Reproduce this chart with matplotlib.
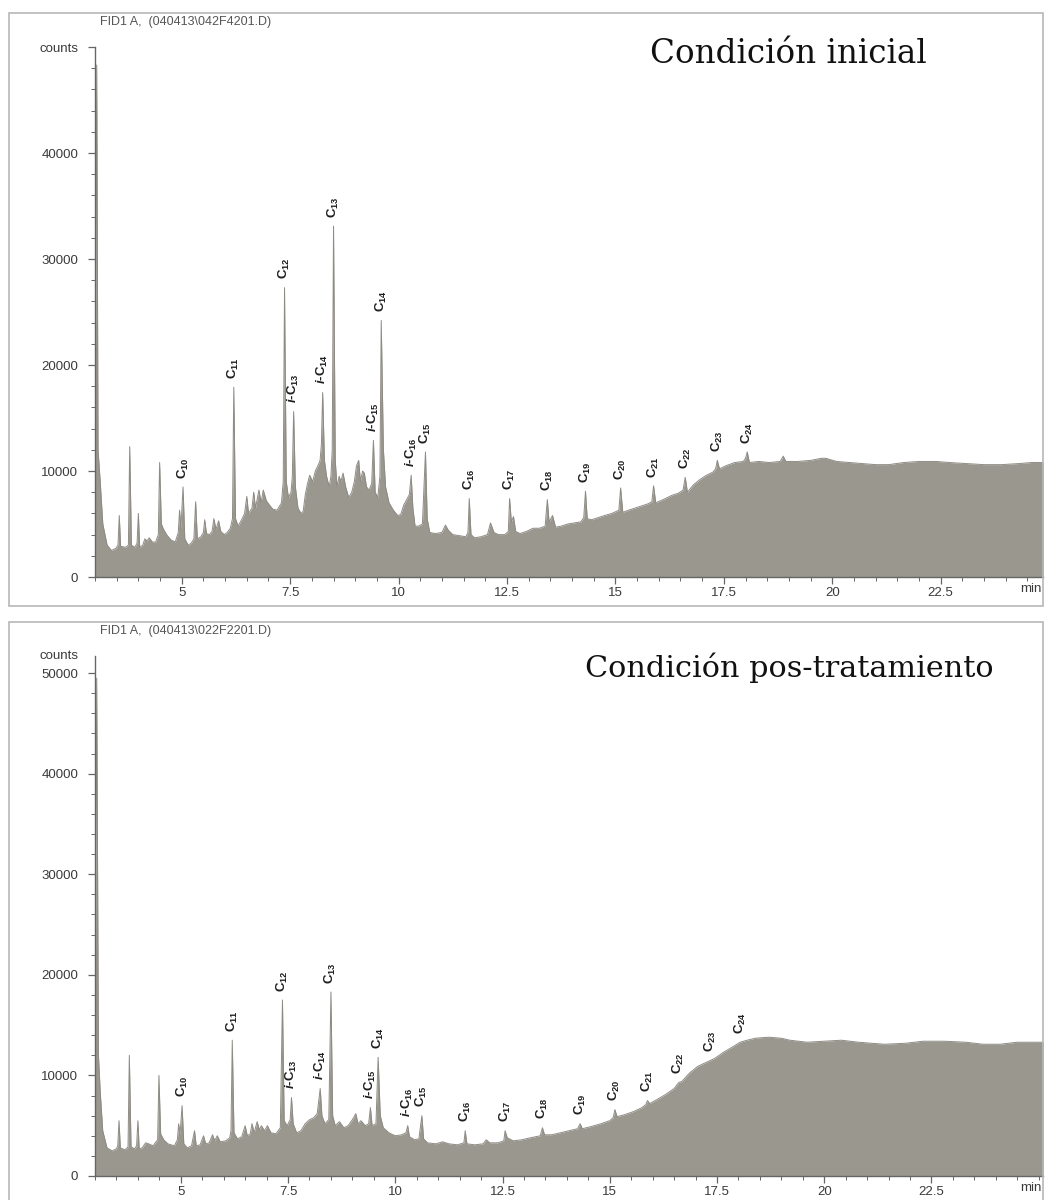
import matplotlib
matplotlib.use('Agg')
import matplotlib.pyplot as plt
from matplotlib.patches import Rectangle
from matplotlib.ticker import MultipleLocator
import numpy as np

# FID trace of the initial sample: (retention time in min, counts)
inicial = [
    (3.00, 9500), (3.04, 48300), (3.07, 12000), (3.12, 9000), (3.18, 5000),
    (3.28, 3000), (3.38, 2500), (3.48, 2700), (3.53, 3000), (3.56, 5800),
    (3.59, 2900), (3.70, 2800), (3.77, 3000), (3.80, 12300), (3.84, 3000),
    (3.92, 2800), (3.97, 3200), (4.00, 6000), (4.03, 2800), (4.10, 3000),
    (4.15, 3600), (4.20, 3400), (4.25, 3700), (4.32, 3300), (4.40, 3300),
    (4.46, 4000), (4.49, 10800), (4.53, 5000), (4.58, 4500), (4.65, 4000),
    (4.75, 3500), (4.85, 3300), (4.92, 4200), (4.95, 6300), (4.98, 4500),
    (5.03, 8500), (5.07, 3600), (5.15, 3000), (5.22, 3200), (5.28, 3600),
    (5.32, 7100), (5.36, 3600), (5.44, 3800), (5.50, 4200), (5.53, 5400),
    (5.57, 4100), (5.64, 4000), (5.70, 4300), (5.74, 5500), (5.79, 4500),
    (5.85, 5300), (5.90, 4300), (5.98, 4000), (6.05, 4200), (6.12, 4600),
    (6.17, 5500), (6.20, 17900), (6.24, 5500), (6.30, 4800), (6.38, 5400),
    (6.45, 6000), (6.50, 7600), (6.54, 6000), (6.62, 6500), (6.66, 8000),
    (6.70, 6500), (6.78, 8200), (6.83, 7000), (6.88, 8200), (6.95, 7200),
    (7.02, 6800), (7.10, 6400), (7.20, 6300), (7.30, 7000), (7.34, 9000),
    (7.37, 27300), (7.41, 9000), (7.46, 7500), (7.52, 8000), (7.55, 9500),
    (7.58, 15600), (7.62, 8500), (7.68, 6500), (7.75, 6000), (7.80, 6200),
    (7.85, 7800), (7.90, 8800), (7.95, 9600), (8.02, 9000), (8.08, 10000),
    (8.14, 10500), (8.19, 11000), (8.22, 12500), (8.25, 17400), (8.29, 11000),
    (8.34, 9500), (8.40, 8500), (8.44, 9500), (8.47, 12000), (8.50, 33100),
    (8.54, 11000), (8.58, 8500), (8.63, 9500), (8.67, 9000), (8.72, 9800),
    (8.78, 8500), (8.85, 7500), (8.92, 8000), (8.98, 9000), (9.03, 10500),
    (9.08, 11000), (9.12, 9000), (9.17, 10000), (9.21, 9800), (9.26, 8500),
    (9.32, 8200), (9.38, 8800), (9.42, 12900), (9.46, 8000), (9.52, 7500),
    (9.57, 9500), (9.60, 24200), (9.65, 12000), (9.70, 8500), (9.78, 7000),
    (9.88, 6300), (9.98, 5800), (10.05, 5900), (10.12, 6800), (10.20, 7400),
    (10.25, 7800), (10.29, 9600), (10.33, 6500), (10.38, 4800), (10.46, 4800),
    (10.55, 5000), (10.62, 11800), (10.66, 5500), (10.72, 4200), (10.85, 4100),
    (11.00, 4200), (11.08, 4900), (11.15, 4400), (11.25, 4000), (11.40, 3900),
    (11.55, 3800), (11.60, 4200), (11.63, 7400), (11.67, 4000), (11.75, 3700),
    (11.90, 3800), (12.05, 4000), (12.12, 5100), (12.20, 4200), (12.30, 4000),
    (12.45, 4000), (12.53, 4300), (12.56, 7400), (12.60, 5200), (12.65, 5700),
    (12.70, 4300), (12.80, 4100), (12.95, 4300), (13.10, 4600), (13.25, 4600),
    (13.38, 4800), (13.43, 7300), (13.47, 5200), (13.55, 5800), (13.62, 4700),
    (13.75, 4800), (13.90, 5000), (14.05, 5100), (14.20, 5200), (14.27, 5600),
    (14.31, 8100), (14.35, 5500), (14.45, 5400), (14.60, 5600), (14.75, 5800),
    (14.92, 6000), (15.08, 6300), (15.12, 8400), (15.17, 6100), (15.30, 6300),
    (15.45, 6500), (15.60, 6700), (15.75, 6900), (15.84, 7100), (15.88, 8600),
    (15.93, 7000), (16.10, 7300), (16.30, 7700), (16.45, 7900), (16.56, 8200),
    (16.61, 9400), (16.66, 8000), (16.80, 8700), (16.95, 9200), (17.10, 9600),
    (17.25, 9900), (17.31, 10200), (17.35, 11000), (17.40, 10200), (17.55, 10500),
    (17.75, 10800), (17.95, 10900), (18.00, 11200), (18.04, 11800), (18.09, 10800),
    (18.30, 10900), (18.55, 10800), (18.80, 10900), (18.87, 11400), (18.93, 10900),
    (19.20, 10900), (19.50, 11000), (19.75, 11200), (19.85, 11200), (20.10, 10900),
    (20.40, 10800), (20.70, 10700), (21.00, 10600), (21.30, 10600), (21.65, 10800),
    (22.00, 10900), (22.40, 10900), (22.70, 10800), (23.10, 10700), (23.50, 10600),
    (23.90, 10600), (24.30, 10700), (24.60, 10800), (24.90, 10800),
]

# FID trace after treatment
postratamiento = [
    (3.00, 9500), (3.04, 49500), (3.08, 12000), (3.12, 8500), (3.18, 4500),
    (3.28, 2800), (3.40, 2500), (3.50, 2700), (3.53, 3000), (3.56, 5500),
    (3.59, 2800), (3.70, 2600), (3.77, 2900), (3.80, 12000), (3.84, 2900),
    (3.92, 2700), (3.97, 3000), (4.00, 5500), (4.03, 2700), (4.10, 2800),
    (4.18, 3300), (4.25, 3200), (4.35, 3000), (4.46, 3600), (4.49, 10000),
    (4.53, 4200), (4.60, 3600), (4.70, 3200), (4.85, 3000), (4.92, 3600),
    (4.95, 5200), (4.98, 4000), (5.03, 7000), (5.07, 3200), (5.15, 2800),
    (5.25, 3000), (5.32, 4500), (5.36, 3000), (5.45, 3100), (5.53, 4000),
    (5.58, 3200), (5.66, 3300), (5.74, 4100), (5.79, 3500), (5.85, 4000),
    (5.92, 3400), (6.05, 3500), (6.14, 3800), (6.17, 4500), (6.20, 13500),
    (6.24, 4300), (6.32, 3700), (6.42, 3900), (6.50, 5000), (6.55, 4000),
    (6.62, 4200), (6.66, 5200), (6.71, 4300), (6.78, 5400), (6.83, 4600),
    (6.88, 5000), (6.95, 4500), (7.02, 5000), (7.10, 4300), (7.22, 4200),
    (7.32, 4800), (7.37, 17500), (7.41, 5500), (7.48, 5000), (7.55, 5600),
    (7.58, 7800), (7.62, 5200), (7.70, 4300), (7.80, 4500), (7.90, 5200),
    (8.00, 5600), (8.10, 5800), (8.18, 6200), (8.25, 8700), (8.29, 6000),
    (8.36, 5200), (8.45, 5600), (8.50, 18300), (8.54, 6000), (8.60, 5000),
    (8.70, 5400), (8.80, 4800), (8.90, 5000), (9.00, 5600), (9.08, 6200),
    (9.13, 5200), (9.20, 5500), (9.30, 5000), (9.38, 5200), (9.42, 6800),
    (9.46, 5000), (9.55, 5200), (9.60, 11800), (9.65, 6000), (9.72, 4800),
    (9.85, 4300), (10.00, 4000), (10.15, 4100), (10.25, 4300), (10.29, 5000),
    (10.33, 3900), (10.45, 3600), (10.55, 3700), (10.62, 6000), (10.66, 3700),
    (10.75, 3300), (10.95, 3200), (11.10, 3400), (11.25, 3200), (11.45, 3100),
    (11.60, 3300), (11.63, 4500), (11.67, 3200), (11.85, 3100), (12.05, 3200),
    (12.12, 3600), (12.20, 3300), (12.40, 3300), (12.53, 3500), (12.56, 4500),
    (12.61, 3800), (12.75, 3500), (12.95, 3600), (13.15, 3800), (13.38, 4000),
    (13.43, 4800), (13.48, 4100), (13.65, 4100), (13.85, 4300), (14.05, 4500),
    (14.25, 4700), (14.31, 5200), (14.36, 4700), (14.55, 4900), (14.80, 5200),
    (15.00, 5500), (15.08, 5800), (15.12, 6600), (15.17, 5900), (15.35, 6100),
    (15.55, 6400), (15.75, 6800), (15.84, 7100), (15.88, 7500), (15.93, 7200),
    (16.10, 7600), (16.30, 8100), (16.50, 8700), (16.61, 9300), (16.68, 9400),
    (16.85, 10200), (17.05, 10900), (17.25, 11300), (17.35, 11500), (17.45, 11700),
    (17.65, 12300), (17.85, 12800), (18.04, 13300), (18.20, 13500), (18.40, 13700),
    (18.70, 13800), (19.00, 13700), (19.20, 13500), (19.60, 13300), (20.00, 13400),
    (20.40, 13500), (20.80, 13300), (21.40, 13100), (21.90, 13200), (22.30, 13400),
    (22.80, 13400), (23.30, 13300), (23.70, 13100), (24.10, 13100), (24.50, 13300),
    (25.20, 13300),
]

# labelled peaks: compound and retention time
peak_names = ['C10', 'C11', 'C12', 'i-C13', 'i-C14', 'C13', 'i-C15', 'C14',
              'i-C16', 'C15', 'C16', 'C17', 'C18', 'C19', 'C20', 'C21',
              'C22', 'C23', 'C24']
peak_times = [5.03, 6.20, 7.37, 7.58, 8.25, 8.50, 9.42, 9.60, 10.29, 10.62,
              11.63, 12.56, 13.43, 14.31, 15.12, 15.88, 16.61, 17.35, 18.04]

x_ticks = [5, 7.5, 10, 12.5, 15, 17.5, 20, 22.5]
x_ticklabels = ['5', '7.5', '10', '12.5', '15', '17.5', '20', '22.5']

W, H = 1045, 1200
FILL = '#9a978f'
TXT = '#3a3a3a'

plt.rcParams['font.family'] = ['Liberation Sans', 'DejaVu Sans']
plt.rcParams['mathtext.fontset'] = 'custom'
plt.rcParams['mathtext.rm'] = 'Liberation Sans:bold'
plt.rcParams['mathtext.it'] = 'Liberation Sans:italic:bold'
plt.rcParams['mathtext.bf'] = 'Liberation Sans:bold'

fig = plt.figure(figsize=(W / 100, H / 100), dpi=100)


def peak_label(name):
    num = name.split('C')[1]
    if name.startswith('i-'):
        return r'$\mathit{i}$-C$_{\mathrm{%s}}$' % num
    return r'C$_{\mathrm{%s}}$' % num


def panel(box, frame, data, xlim, ylim, archivo, titulo, title_xy, title_size,
          counts_y):
    # light outer frame around each chromatogram
    fx0, fy0, fx1, fy1 = frame
    fig.add_artist(Rectangle((fx0 / W, 1 - fy1 / H), (fx1 - fx0) / W,
                             (fy1 - fy0) / H, transform=fig.transFigure,
                             fill=False, edgecolor='#b8b8b8', lw=1.2))

    ax = fig.add_axes(box)
    t, c = np.array(data).T
    ax.fill_between(t, c, 0, color=FILL, lw=0)
    ax.plot(t, c, color='#8e8b84', lw=0.7)
    ax.set_xlim(*xlim)
    ax.set_ylim(*ylim)

    for s in ['top', 'right']:
        ax.spines[s].set_visible(False)
    for s in ['left', 'bottom']:
        ax.spines[s].set_color('#666666')
        ax.spines[s].set_linewidth(1.0)

    ax.set_xticks(x_ticks)
    ax.set_xticklabels(x_ticklabels)
    ax.xaxis.set_minor_locator(MultipleLocator(0.5))
    ax.set_yticks([0, 10000, 20000, 30000, 40000, 50000])
    ax.yaxis.set_minor_locator(MultipleLocator(2000))
    ax.tick_params(which='both', colors='#666666', labelcolor=TXT,
                   labelsize=9.5, direction='out')
    ax.tick_params(which='major', length=5, width=0.9)
    ax.tick_params(which='minor', length=3, width=0.7)
    ax.tick_params(axis='x', pad=2)
    ax.tick_params(axis='y', pad=7)

    if counts_y is None:
        ax.set_yticklabels(['0', '10000', '20000', '30000', '40000', 'counts'])
    else:
        ax.set_yticklabels(['0', '10000', '20000', '30000', '40000', '50000'])
        ax.text(-0.017, counts_y, 'counts', transform=ax.get_yaxis_transform(),
                ha='right', va='center', fontsize=9.5, color=TXT)

    ax.text(0.998, -0.012, 'min', transform=ax.transAxes, ha='right', va='top',
            fontsize=9.5, color=TXT)

    # peak labels sit just above the apex of each peak
    for name, pt in zip(peak_names, peak_times):
        near = np.abs(t - pt) < 0.03
        apex = c[near].max()
        ax.annotate(peak_label(name), (pt, apex), xytext=(0, 6),
                    textcoords='offset points', rotation=90, ha='center',
                    va='bottom', fontsize=9.5, fontweight='bold',
                    color='#1e1e1e')

    fig.text(100 / W, 1 - (fy0 + 9) / H, archivo, ha='left', va='center',
             fontsize=9, color='#555555')
    fig.text(title_xy[0] / W, 1 - title_xy[1] / H, titulo, ha='left',
             va='center', fontsize=title_size, color='#111111',
             family=['DejaVu Serif'])
    return ax


panel([95 / W, (H - 577) / H, (1043 - 95) / W, 530 / H],
      (9, 13, 1043, 606), inicial, (3.0, 24.86), (0, 50000),
      r'FID1 A,  (040413\042F4201.D)', 'Condición inicial', (650, 54), 23.5,
      None)

panel([95 / W, (H - 1176) / H, (1043 - 95) / W, 520 / H],
      (9, 622, 1043, 1215), postratamiento, (3.0, 25.1), (0, 51700),
      r'FID1 A,  (040413\022F2201.D)', 'Condición pos-tratamiento',
      (585, 668), 21.8, 51700)

fig.savefig('out.png', dpi=100)
